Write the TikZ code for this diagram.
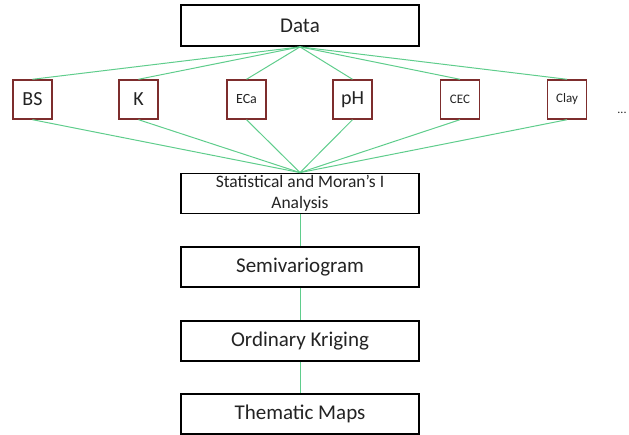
\documentclass[tikz,border=0pt]{standalone}
\usepackage{fontspec}
\setmainfont{Carlito}
\definecolor{linkgreen}{RGB}{95,205,140}
\definecolor{boxred}{RGB}{125,45,45}
\definecolor{inkgray}{RGB}{35,35,35}
\tikzset{
  bigbox/.style={draw=black,line width=1.8pt,minimum width=238pt,minimum height=40pt,inner sep=0pt,fill=white,text=inkgray,font=\fontsize{21}{25}\selectfont},
  varbox/.style={draw=boxred,line width=1.4pt,minimum width=39pt,minimum height=39pt,inner sep=0pt,fill=white,text=inkgray},
  link/.style={linkgreen,line width=1pt}
}
\begin{document}
\begin{tikzpicture}[x=1pt,y=-1pt]
\useasboundingbox (0,0) rectangle (629,435);
% main chain
\node[bigbox,minimum height=41pt] (data) at (300,25.5) {Data};
\node[bigbox,align=center,font=\fontsize{17.5}{21}\selectfont] (stat) at (300,193.5) {Statistical and Moran’s I\\Analysis};
\node[bigbox] (semi) at (300,267) {Semivariogram};
\node[bigbox] (krig) at (300,341) {Ordinary Kriging};
\node[bigbox] (maps) at (300,414) {Thematic Maps};
% soil variables
\foreach \n/\t/\x/\s in {bs/BS/32.5/20,k/K/138.5/20,eca/ECa/246.5/14,ph/pH/352.5/20,cec/CEC/460/13,clay/Clay/567/13}{
  \node[varbox,font=\fontsize{\s}{\s}\selectfont] (\n) at (\x,99.5) {\t};
  \draw[link] (data.south)--(\n.north);
  \draw[link] (\n.south)--(stat.north);
}
\node[text=inkgray,font=\fontsize{12}{12}\selectfont] (more) at (622,113) {...};
\draw[link] (stat)--(semi) (semi)--(krig) (krig)--(maps);
\end{tikzpicture}
\end{document}
